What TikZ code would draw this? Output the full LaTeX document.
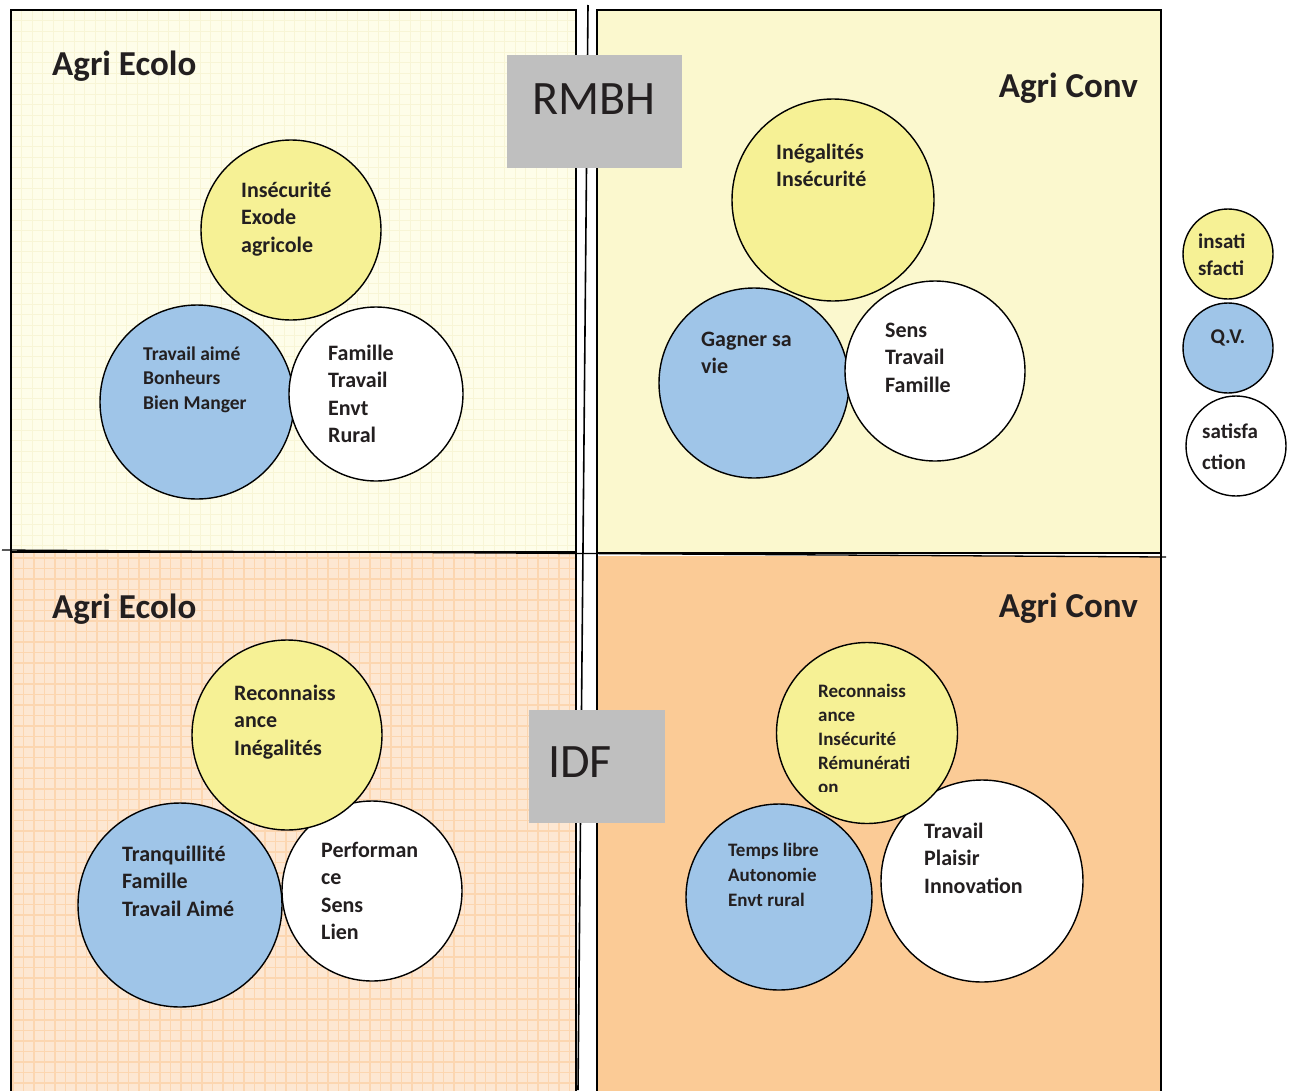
\documentclass[tikz,border=0pt]{standalone}
\usepackage{fontspec}
\setmainfont{Carlito}
\begin{document}
\begin{tikzpicture}[x=1pt,y=-1pt,
  quad/.style={draw=black,line width=2pt},
  bubble/.style={circle,draw=black,line width=1.4pt,inner sep=0pt},
  yel/.style={bubble,fill=cyel},
  blu/.style={bubble,fill=cblu},
  wht/.style={bubble,fill=white},
  txt/.style={anchor=base west,align=left,inner sep=0pt,text=ctxt,font=\bfseries\fontsize{22}{27.5}\selectfont},
  txts/.style={txt,font=\bfseries\fontsize{19.5}{24.5}\selectfont},
  ttl/.style={inner sep=0pt,text=ctxt,font=\bfseries\fontsize{35}{38}\selectfont},
  lbl/.style={fill=cgray,inner sep=0pt,minimum width=175pt,minimum height=113pt}]
\definecolor{cyel}{HTML}{F6F195}
\definecolor{cblu}{HTML}{9FC5E8}
\definecolor{ctxt}{HTML}{231F20}
\definecolor{cgray}{HTML}{BFBFBF}
\definecolor{ctl}{HTML}{FEFDE9}
\definecolor{ctlg}{HTML}{F8F5D6}
\definecolor{ctr}{HTML}{FBF8CE}
\definecolor{cbl}{HTML}{FDE7D2}
\definecolor{cblg}{HTML}{FCD6B0}
\definecolor{cbr}{HTML}{FBCB96}
\useasboundingbox (0,0) rectangle (1293,1090);
\fill[white] (0,0) rectangle (1293,1090);
% quadrants
\fill[ctl] (11,10) rectangle (576,552);
\begin{scope}
  \clip (11,10) rectangle (576,552);
  \foreach \i in {0,...,54} {\draw[ctlg,line width=0.8pt] (11+10.5*\i,10) -- (11+10.5*\i,552);}
  \foreach \i in {0,...,52} {\draw[ctlg,line width=0.8pt] (11,10+10.5*\i) -- (576,10+10.5*\i);}
\end{scope}
\fill[ctr] (597,10) rectangle (1161,552);
\fill[cbl] (11,553) rectangle (576,1095);
\begin{scope}
  \clip (11,553) rectangle (576,1095);
  \foreach \i in {0,...,54} {\draw[cblg,line width=1.2pt] (13+10.5*\i,553) -- (13+10.5*\i,1095);}
  \foreach \i in {0,...,52} {\draw[cblg,line width=1.2pt] (11,558+10.5*\i) -- (576,558+10.5*\i);}
\end{scope}
\fill[cbr] (597,556) rectangle (1161,1095);
\draw[quad] (11,1095) -- (11,10) -- (576,10) -- (576,1095);
\draw[quad] (597,1095) -- (597,10) -- (1161,10) -- (1161,1095);
\draw[quad] (11,552) -- (576,552);
\draw[quad] (597,553) -- (1161,553);
\coordinate (hl) at (2,550);
\coordinate (hr) at (1166,557);
\coordinate (vt) at (588,5);
\coordinate (vb) at (578,1090);
\draw[line width=1.3pt] (hl) -- (hr);
\draw[line width=1.6pt] (vt) -- (vb);
% labels
\node[lbl] (rmbh) at (594.5,111.5) {};
\node[inner sep=0pt,text=ctxt,font=\fontsize{48}{50}\selectfont,anchor=base] (rmbht) at (594,114) {RMBH};
\node[lbl,minimum width=136pt] (idf) at (597,766.5) {};
\node[inner sep=0pt,text=ctxt,font=\fontsize{48}{50}\selectfont,anchor=base west] (idft) at (548,777) {IDF};
% titles
\node[ttl,anchor=base west] (t1) at (52,75) {Agri Ecolo};
\node[ttl,anchor=base east] (t2) at (1138,97) {Agri Conv};
\node[ttl,anchor=base west] (t3) at (52,618) {Agri Ecolo};
\node[ttl,anchor=base east] (t4) at (1138,617) {Agri Conv};
% TL
\node[yel,minimum size=180pt] (c1y) at (291,230) {};
\node[blu,minimum size=194pt] (c1b) at (197,402) {};
\node[wht,minimum size=174pt] (c1w) at (376,394) {};
\node[txt] (c1yt) at (241,252) {Insécurité\\Exode\\agricole};
\node[txts] (c1bt) at (143,409) {Travail aimé\\Bonheurs\\Bien Manger};
\node[txt] (c1wt) at (328,442.5) {Famille\\Travail\\Envt\\Rural};
% TR
\node[yel,minimum size=202pt] (c2y) at (833,200) {};
\node[blu,minimum size=190pt] (c2b) at (754,383) {};
\node[wht,minimum size=180pt] (c2w) at (935,371) {};
\node[txt] (c2yt) at (776,186.5) {Inégalités\\Insécurité};
\node[txt] (c2bt) at (701,373.5) {Gagner sa\\vie};
\node[txt] (c2wt) at (885,392) {Sens\\Travail\\Famille};
% legend
\node[yel,minimum size=90pt] (ly) at (1228,254) {};
\node[blu,minimum size=90pt] (lb) at (1228,348) {};
\node[wht,minimum size=100pt] (lw) at (1236,446) {};
\node[txt,font=\bfseries\fontsize{21}{27}\selectfont] (lyt) at (1198,275) {insati\\sfacti};
\node[txt,font=\bfseries\fontsize{21}{27}\selectfont,anchor=base] (lbt) at (1228,343) {Q.V.};
\node[txt,font=\bfseries\fontsize{21}{31}\selectfont] (lwt) at (1202,469) {satisfa\\ction};
% BL
\node[wht,minimum size=180pt] (c3w) at (372,891) {};
\node[yel,minimum size=190pt] (c3y) at (287,735) {};
\node[blu,minimum size=204pt] (c3b) at (180,905) {};
\node[txt] (c3yt) at (234,755) {Reconnaiss\\ance\\Inégalités};
\node[txt] (c3bt) at (122,916) {Tranquillité\\Famille\\Travail Aimé};
\node[txt] (c3wt) at (321,939.5) {Performan\\ce\\Sens\\Lien};
% BR
\node[blu,minimum size=186pt] (c4b) at (779,897) {};
\node[wht,minimum size=202pt] (c4w) at (982,881) {};
\node[yel,minimum size=181pt] (c4y) at (867,733) {};
\begin{scope}
  \clip (800,660) rectangle (940,791);
  \node[txt,font=\bfseries\fontsize{19}{24}\selectfont] (c4yt) at (818,793) {Reconnaiss\\ance\\Insécurité\\Rémunérati\\on};
\end{scope}
\node[txts,font=\bfseries\fontsize{19}{25}\selectfont] (c4bt) at (728,906) {Temps libre\\Autonomie\\Envt rural};
\node[txt] (c4wt) at (924,893) {Travail\\Plaisir\\Innovation};
\end{tikzpicture}
\end{document}
